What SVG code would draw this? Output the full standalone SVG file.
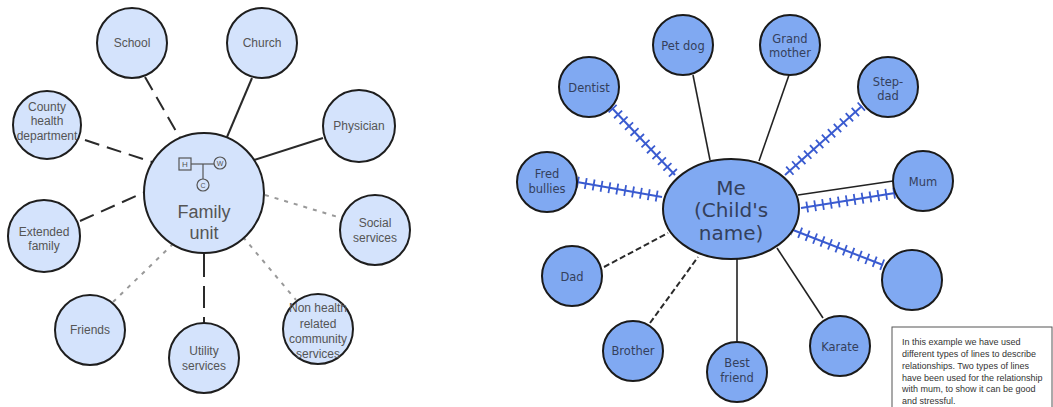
<svg xmlns="http://www.w3.org/2000/svg" width="1053" height="407" viewBox="0 0 1053 407">
<style>
.lc{fill:#d4e3fc;stroke:#1e1e1e;stroke-width:2}
.rc{fill:#80a9f2;stroke:#1a1a1a;stroke-width:2}
.lt{font-family:"Liberation Sans",Arial,sans-serif;font-size:12px;fill:#555;text-anchor:middle;dominant-baseline:central}
.rt{font-family:"DejaVu Sans","Liberation Sans",sans-serif;font-size:11.5px;fill:#34405c;text-anchor:middle;dominant-baseline:central}
.solid{stroke:#2a2a2a;stroke-width:2;fill:none}
.dash{stroke:#2a2a2a;stroke-width:2;stroke-dasharray:15 8;fill:none}
.dot{stroke:#999;stroke-width:2;stroke-dasharray:4 6;fill:none}
.sdash{stroke:#2a2a2a;stroke-width:2;stroke-dasharray:6 3;fill:none}
.hline{stroke:#3a5bd0;stroke-width:2;fill:none}
.htick{stroke:#3a5bd0;stroke-width:11px;stroke-dasharray:1.8 6.2;fill:none}
.rsolid{stroke:#222;stroke-width:1.6;fill:none}
.gen{font-family:"Liberation Sans",Arial,sans-serif;fill:#555;text-anchor:middle;dominant-baseline:central}
.note{font-family:"Liberation Sans",Arial,sans-serif;font-size:9px;fill:#333}
</style>
<rect width="1053" height="407" fill="#fff"/>
<g id="connectors">
<line class="dash" x1="145" y1="77" x2="180" y2="138"/>
<line class="solid" x1="252" y1="78" x2="227" y2="137"/>
<line class="solid" x1="323" y1="138" x2="254" y2="160"/>
<line class="dash" x1="85" y1="140" x2="152" y2="162"/>
<line class="dash" x1="80" y1="221" x2="145" y2="192"/>
<line class="dot" x1="265" y1="195" x2="338" y2="217"/>
<line class="dot" x1="113" y1="302" x2="174" y2="243"/>
<line class="solid" x1="204" y1="253" x2="204" y2="323" style="stroke-dasharray:24 9 22 9 30"/>
<line class="dot" x1="243" y1="237" x2="296" y2="300"/>
<line class="rsolid" x1="693" y1="75" x2="710" y2="160"/>
<line class="rsolid" x1="789" y1="75" x2="759" y2="161"/>
<line class="hline" x1="612" y1="108" x2="675" y2="175"/>
<line class="htick" x1="612" y1="108" x2="675" y2="175"/>
<line class="hline" x1="862" y1="106" x2="785" y2="175"/>
<line class="htick" x1="862" y1="106" x2="785" y2="175"/>
<line class="hline" x1="577" y1="182" x2="662" y2="197"/>
<line class="htick" x1="577" y1="182" x2="662" y2="197"/>
<line class="rsolid" x1="893" y1="181" x2="798" y2="195"/>
<line class="hline" x1="895" y1="193" x2="801" y2="208"/>
<line class="htick" x1="895" y1="193" x2="801" y2="208"/>
<line class="hline" x1="883" y1="265" x2="793" y2="230"/>
<line class="htick" x1="883" y1="265" x2="793" y2="230"/>
<line class="rsolid" x1="823" y1="318" x2="777" y2="248"/>
<line class="rsolid" x1="737" y1="259" x2="737" y2="342"/>
<line class="sdash" x1="650" y1="323" x2="698" y2="257"/>
<line class="sdash" x1="604" y1="267" x2="668" y2="233"/>
</g>
<g id="family-unit">
<circle class="lc" cx="204" cy="193" r="60"/>
<rect x="179" y="158" width="12" height="12" fill="none" stroke="#555" stroke-width="1.2"/>
<text class="gen" x="185" y="164.5" font-size="8">H</text>
<line x1="191" y1="164" x2="214" y2="164" stroke="#555" stroke-width="1.2"/>
<circle cx="220" cy="163" r="6" fill="none" stroke="#555" stroke-width="1.2"/>
<text class="gen" x="220" y="163.5" font-size="7">W</text>
<line x1="203" y1="164" x2="203" y2="179" stroke="#555" stroke-width="1.2"/>
<circle cx="203" cy="185" r="6" fill="none" stroke="#555" stroke-width="1.2"/>
<text class="gen" x="203" y="185.5" font-size="7">C</text>
<text class="lt" x="204" y="212" style="font-size:18px">Family</text>
<text class="lt" x="204" y="233" style="font-size:18px">unit</text>
</g>
<g id="school"><circle class="lc" cx="132" cy="43" r="35"/><text class="lt" x="132" y="43">School</text></g>
<g id="church"><circle class="lc" cx="262" cy="43" r="35"/><text class="lt" x="262" y="43">Church</text></g>
<g id="physician"><circle class="lc" cx="359" cy="126" r="36"/><text class="lt" x="359" y="126">Physician</text></g>
<g id="county"><circle class="lc" cx="47" cy="125" r="34"/><text class="lt" x="47" y="107">County</text><text class="lt" x="47" y="121">health</text><text class="lt" x="47" y="136">department</text></g>
<g id="extended"><circle class="lc" cx="44" cy="236" r="36"/><text class="lt" x="44" y="232">Extended</text><text class="lt" x="44" y="246">family</text></g>
<g id="social"><circle class="lc" cx="375" cy="230" r="35"/><text class="lt" x="375" y="223">Social</text><text class="lt" x="375" y="238">services</text></g>
<g id="friends"><circle class="lc" cx="90" cy="330" r="35"/><text class="lt" x="90" y="330">Friends</text></g>
<g id="utility"><circle class="lc" cx="204" cy="358" r="35"/><text class="lt" x="204" y="351">Utility</text><text class="lt" x="204" y="366">services</text></g>
<g id="nonhealth"><circle class="lc" cx="318" cy="329" r="35"/><text class="lt" x="318" y="308">Non health</text><text class="lt" x="318" y="324">related</text><text class="lt" x="318" y="339">community</text><text class="lt" x="318" y="354">services</text></g>
<g id="me"><ellipse class="rc" cx="731" cy="209" rx="68" ry="50"/><text class="rt" x="731" y="188" style="font-size:20px">Me</text><text class="rt" x="731" y="210" style="font-size:20px">(Child's</text><text class="rt" x="731" y="233" style="font-size:20px">name)</text></g>
<g id="petdog"><circle class="rc" cx="683" cy="45" r="30"/><text class="rt" x="683" y="46">Pet dog</text></g>
<g id="grandmother"><circle class="rc" cx="790" cy="45" r="30"/><text class="rt" x="790" y="39">Grand</text><text class="rt" x="790" y="53">mother</text></g>
<g id="dentist"><circle class="rc" cx="589" cy="87" r="30"/><text class="rt" x="589" y="88">Dentist</text></g>
<g id="stepdad"><circle class="rc" cx="888" cy="87" r="30"/><text class="rt" x="888" y="82">Step-</text><text class="rt" x="888" y="96">dad</text></g>
<g id="fred"><circle class="rc" cx="547" cy="182" r="30"/><text class="rt" x="547" y="174">Fred</text><text class="rt" x="547" y="189">bullies</text></g>
<g id="mum"><circle class="rc" cx="923" cy="181" r="30"/><text class="rt" x="923" y="182">Mum</text></g>
<g id="blank"><circle class="rc" cx="912" cy="280" r="30"/></g>
<g id="dad"><circle class="rc" cx="572" cy="276" r="30"/><text class="rt" x="572" y="277">Dad</text></g>
<g id="brother"><circle class="rc" cx="633" cy="351" r="30"/><text class="rt" x="633" y="351">Brother</text></g>
<g id="bestfriend"><circle class="rc" cx="737" cy="372" r="30"/><text class="rt" x="737" y="363">Best</text><text class="rt" x="737" y="378">friend</text></g>
<g id="karate"><circle class="rc" cx="840" cy="346" r="30"/><text class="rt" x="840" y="347">Karate</text></g>
<g id="note">
<rect x="892" y="327" width="160" height="90" fill="#fff" stroke="#555" stroke-width="1"/>
<text class="note" x="902" y="345">In this example we have used</text>
<text class="note" x="902" y="357">different types of lines to describe</text>
<text class="note" x="902" y="369">relationships. Two types of lines</text>
<text class="note" x="902" y="381">have been used for the relationship</text>
<text class="note" x="902" y="392">with mum, to show it can be good</text>
<text class="note" x="902" y="404">and stressful.</text>
</g>
</svg>
